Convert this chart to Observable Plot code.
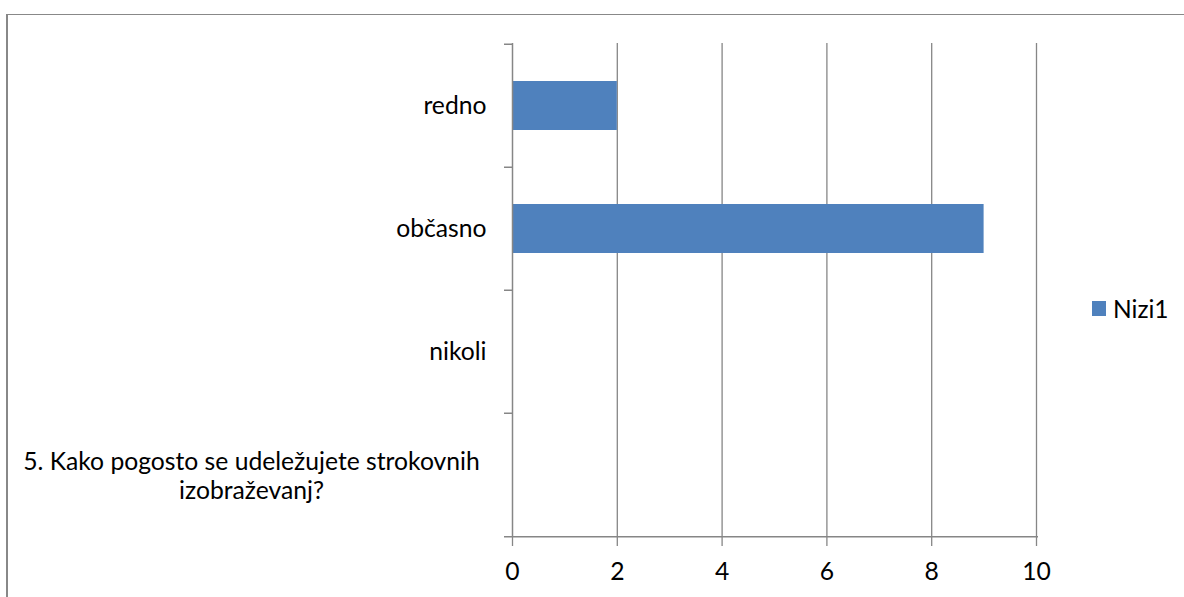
<!DOCTYPE html>
<html>
<head>
<meta charset="utf-8">
<script src="https://cdn.jsdelivr.net/npm/d3@7"></script>
<script src="https://cdn.jsdelivr.net/npm/@observablehq/plot@0.6"></script>
<style>
  html, body { margin: 0; padding: 0; background: #fff; }
  #wrap { position: relative; width: 1184px; height: 597px; overflow: hidden; background: #fff; font-family: Lato, "Open Sans", sans-serif; }
  #border { position: absolute; left: 6px; top: 14px; width: 1200px; height: 700px; border-left: 2px solid #888; border-top: 1.5px solid #888; box-sizing: border-box; }
  #chart { position: absolute; left: 0; top: 0; }
  #legend { position: absolute; left: 1092px; top: 294px; display: flex; align-items: center; font-size: 24.5px; color: #000; }
  #legend .sw { width: 14px; height: 15px; margin-right: 7px; }
</style>
</head>
<body>
<div id="wrap">
  <div id="border"></div>
  <div id="chart"></div>
  <div id="legend"></div>
</div>
<script>
// Categories from top to bottom
const categories = ["redno", "občasno", "nikoli", "5. Kako pogosto se udeležujete strokovnih\nizobraževanj?"];
const values = [2, 9, 0, 0];
const seriesName = "Nizi1";
const seriesColor = "#4F81BD";
const xTicks = [0, 2, 4, 6, 8, 10];

const data = categories.map((c, i) => ({category: c, value: values[i]}));

const W = 1184, H = 597, mT = 43, mB = 60, mL = 512, mR = 148;
const step = (H - mT - mB) / categories.length;
const grid = "#868686";
const fs = 24.7;

const chart = Plot.plot({
  width: W,
  height: H,
  marginLeft: mL,
  marginRight: mR,
  marginTop: mT,
  marginBottom: mB,
  style: {fontFamily: "Lato, 'Open Sans', sans-serif", fontSize: fs + "px", color: "#000", background: "transparent", overflow: "visible"},
  x: {domain: [0, 10], axis: null},
  y: {domain: categories, padding: 0, axis: null},
  marks: [
    Plot.ruleX(xTicks.filter(t => t > 0), {stroke: grid, strokeWidth: 1.3}),
    Plot.barX(data.filter(d => d.value > 0), {x: "value", y: "category", fill: seriesColor, insetTop: 37, insetBottom: 37}),
    Plot.ruleX([0], {stroke: grid, strokeWidth: 1.5}),
    Plot.ruleY(categories, {y: d => d, x1: 0, x2: 0, insetLeft: -8, dy: -step / 2, stroke: grid, strokeWidth: 1.5}),
    Plot.ruleY([categories[categories.length - 1]], {y: d => d, dy: step / 2, insetLeft: -8, insetRight: -2, stroke: grid, strokeWidth: 1.5}),
    Plot.axisX(xTicks, {tickSize: 9, tickPadding: 16, stroke: grid, strokeWidth: 1.3, fill: "#000", fontSize: fs, label: null}),
    Plot.text(data.filter(d => !d.category.includes("\n")), {y: "category", text: "category", frameAnchor: "left", textAnchor: "end", dx: -26, fill: "#000", fontSize: fs}),
    Plot.text(data.filter(d => d.category.includes("\n")), {y: "category", text: "category", frameAnchor: "left", textAnchor: "middle", dx: -261, lineHeight: 1.2, fill: "#000", fontSize: fs})
  ]
});
document.getElementById("chart").appendChild(chart);

const legend = document.getElementById("legend");
legend.innerHTML = `<div class="sw" style="background:${seriesColor}"></div><span>${seriesName}</span>`;
</script>
</body>
</html>
